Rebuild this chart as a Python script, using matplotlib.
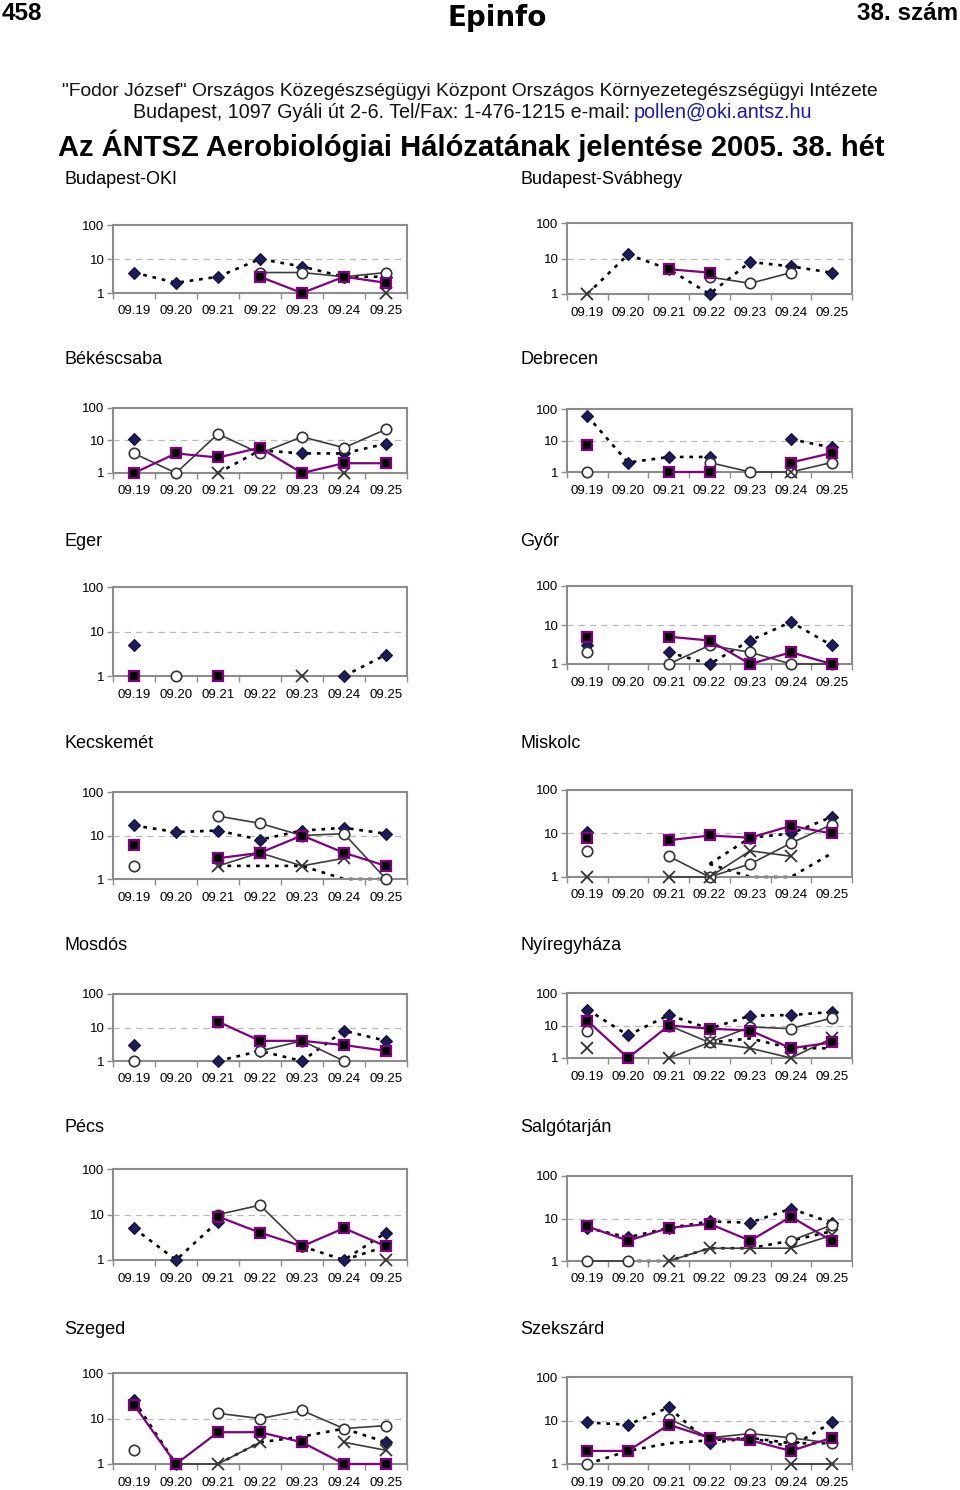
import numpy as np
import matplotlib.pyplot as plt
from matplotlib.ticker import FixedLocator, FixedFormatter, NullLocator

plt.rcParams['font.family'] = ['Liberation Sans', 'DejaVu Sans']

n = np.nan
W, H = 960, 1490

# adatok ======================================================================
dates = ["09.19", "09.20", "09.21", "09.22", "09.23", "09.24", "09.25"]
cities = ["Budapest-OKI", "Budapest-Svábhegy", "Békéscsaba", "Debrecen",
          "Eger", "Győr", "Kecskemét", "Miskolc", "Mosdós", "Nyíregyháza",
          "Pécs", "Salgótarján", "Szeged", "Szekszárd"]

# diamond, dotted line
diamond = [
    [4, 2, 3, 10, 6, 3, 3],
    [n, 13, 5, 1, 8, 6, 4],
    [11, n, n, 5, 4, 4, 8],
    [60, 2, 3, 3, n, 11, 6],
    [5, n, n, n, n, 1, 3],
    [3, n, 2, 1, 4, 12, 3],
    [17, 12, 13, 8, 13, 15, 11],
    [11, n, n, n, 8, 10, 24],
    [3, n, 1, 2, 1, 8, 4],
    [31, 5, 21, 8, 20, 21, 26],
    [5, 1, 7, n, 2, 1, 4],
    [6, 3.6, 6, 8.5, 8, 17, 8],
    [25, 1, n, n, n, n, 3],
    [9, 8, 20, 3, 4, 2.5, 9],
]
# square, purple line
square = [
    [n, n, n, 3, 1, 3, 2],
    [n, n, 5, 4, n, n, n],
    [1, 4, 3, 6, 1, 2, 2],
    [7, n, 1, 1, n, 2, 4],
    [1, n, 1, n, n, n, n],
    [5, n, 5, 4, 1, 2, 1],
    [6, n, 3, 4, 10, 4, 2],
    [8, n, 7, 9, 8, 15, 10],
    [n, n, 15, 4, 4, 3, 2],
    [14, 1, 10, 8, 7, 2, 3],
    [n, n, 9, 4, 2, 5, 2],
    [6.5, 3, 6, 7.5, 3, 11, 3],
    [20, 1, 5, 5, 3, 1, 1],
    [2, 2, 8, 4, 3.5, 2, 4],
]
# open circle, grey line
circle = [
    [n, n, n, 4, 4, 3, 4],
    [n, n, n, 3, 2, 4, n],
    [4, 1, 16, 4, 13, 6, 22],
    [1, n, n, 2, 1, 1, 2],
    [n, 1, n, n, n, n, n],
    [2, n, 1, 3, 2, 1, 1],
    [2, n, 28, 19, 10, 11, 1],
    [4, n, 3, 1, 2, 6, 16],
    [1, n, n, 2, 4, 1, n],
    [7, n, 10, 3, 9, 8, 17],
    [n, n, 10, 16, 2, n, n],
    [1, 1, n, n, n, 3, 7],
    [2, n, 13, 10, 15, 6, 7],
    [1, n, 11, 4, 5, 4, 3],
]
# cross, grey line
cross = [
    [n, n, n, n, n, n, 1],
    [1, n, n, n, n, n, n],
    [n, n, 1, n, n, 1, n],
    [n, n, n, n, n, 1, n],
    [n, n, n, n, 1, n, n],
    [n, n, n, n, n, n, n],
    [n, n, 2, 4, 2, 3, n],
    [1, n, 1, 1, 4, 3, n],
    [n, n, n, n, n, n, n],
    [2, n, 1, 3, 2, 1, 4],
    [n, n, n, n, n, n, 1],
    [n, n, 1, 2, 2, 2, 4],
    [n, 1, 1, 3, n, 3, 2],
    [n, n, n, n, n, 1, 1],
]
# dotted lines without markers
dots1 = [
    [n, n, n, n, n, n, n],
    [1, 13, n, n, n, n, n],
    [n, n, 1, 5, n, n, n],
    [n, n, n, n, n, n, n],
    [n, n, n, n, n, n, n],
    [n, n, n, n, n, n, n],
    [n, n, 2, 2, 2, 1, 1],
    [n, n, n, 2, 1, 1, 3.5],
    [n, n, n, n, n, n, n],
    [n, n, n, 3, 4, 2, 2],
    [n, n, n, n, n, 1, 2],
    [n, 1, 1, 2, 2, 3, 5],
    [n, n, 1, 3, 4, 6, 3],
    [1, 2, 3, 3.5, 4, 3, 3],
]
dots2 = [[n] * 7 for _ in range(14)]
dots2[7] = [n, n, n, 2, 8, n, n]

# elrendezes (pixel) ==========================================================
col_x = [(113, 407), (567, 852)]
panel_y = [(225, 293), (223, 294), (408, 473), (409, 472), (587, 676),
           (586, 664), (792, 879), (790, 877), (994, 1061), (993, 1058),
           (1169, 1260), (1176, 1261), (1373, 1464), (1377, 1464)]
title_y = [180, 360, 541, 743, 946, 1127, 1330]
title_x = [64, 520]

fig = plt.figure(figsize=(9.6, 14.9), dpi=100)


def fx(x):
    return x / W


def fy(y):
    return 1 - y / H


# fejlec
fig.text(fx(2), fy(13), "458", fontsize=17.5, fontweight='bold', va='center')
fig.text(fx(958), fy(13), "38. szám", fontsize=17.5, fontweight='bold',
         va='center', ha='right')
fig.text(fx(497), fy(18), "Epinfo", fontsize=20, fontweight='heavy',
         va='center', ha='center', family=['DejaVu Sans'])
fig.text(fx(470), fy(91), '"Fodor József" Országos Közegészségügyi Központ '
         'Országos Környezetegészségügyi Intézete', fontsize=13.9,
         va='center', ha='center', color='#111111')
fig.text(fx(630), fy(112), "Budapest, 1097 Gyáli út 2-6. Tel/Fax: "
         "1-476-1215 e-mail:", fontsize=14.2, va='center', ha='right',
         color='#111111')
fig.text(fx(634), fy(112), "pollen@oki.antsz.hu", fontsize=14.2,
         va='center', ha='left', color='#1a1ab4')
fig.text(fx(471), fy(146), "Az ÁNTSZ Aerobiológiai Hálózatának jelentése "
         "2005. 38. hét", fontsize=21, fontweight='bold', va='center',
         ha='center')

x = np.arange(7)
dotted = (0, (1.4, 2.2))

for i, city in enumerate(cities):
    col = i % 2
    row = i // 2
    x0, x1 = col_x[col]
    top, bot = panel_y[i]
    ax = fig.add_axes([fx(x0), fy(bot), (x1 - x0) / W, (bot - top) / H])
    ax.set_yscale('log')
    ax.set_ylim(1, 100)
    ax.set_xlim(-0.5, 6.5)
    ax.axhline(10, color='#b8b8b8', lw=0.9, ls=(0, (5, 4)), zorder=0)

    ax.plot(x, dots1[i], color='black', lw=1.9, ls=dotted, zorder=2,
            clip_on=False)
    ax.plot(x, dots2[i], color='black', lw=1.9, ls=dotted, zorder=2,
            clip_on=False)
    ax.plot(x, diamond[i], color='black', lw=1.9, ls=dotted, marker='D',
            ms=6.2, mfc='#1c1c5c', mec='#101030', mew=0.8, zorder=3,
            clip_on=False)
    ax.plot(x, circle[i], color='#3c3c3c', lw=1.2, marker='o', ms=7.5,
            mfc='white', mec='#333333', mew=1.2, zorder=4, clip_on=False)
    ax.plot(x, cross[i], color='#3c3c3c', lw=1.2, marker='x', ms=8,
            mec='#333333', mew=1.3, zorder=5, clip_on=False)
    ax.plot(x, square[i], color='#800080', lw=1.6, marker='s', ms=6.5,
            mfc='black', mec='#800080', mew=1.6, zorder=6, clip_on=False)

    for s in ax.spines.values():
        s.set_color('#8c8c8c')
        s.set_linewidth(1.5)
    ax.yaxis.set_major_locator(FixedLocator([1, 10, 100]))
    ax.yaxis.set_major_formatter(FixedFormatter(['1', '10', '100']))
    ax.yaxis.set_minor_locator(NullLocator())
    ax.tick_params(axis='y', length=4, width=1, color='#8c8c8c', pad=2,
                   labelsize=9.5)
    ax.xaxis.set_major_locator(FixedLocator(list(x)))
    ax.xaxis.set_major_formatter(FixedFormatter(dates))
    ax.xaxis.set_minor_locator(FixedLocator(list(np.arange(-0.5, 7, 1.0))))
    ax.tick_params(axis='x', which='major', length=0, pad=9, labelsize=9.5)
    ax.tick_params(axis='x', which='minor', length=4, width=1,
                   color='#8c8c8c')

    fig.text(fx(title_x[col]), fy(title_y[row]), city, fontsize=13,
             va='center', ha='left')

fig.savefig("out.png", dpi=100)
